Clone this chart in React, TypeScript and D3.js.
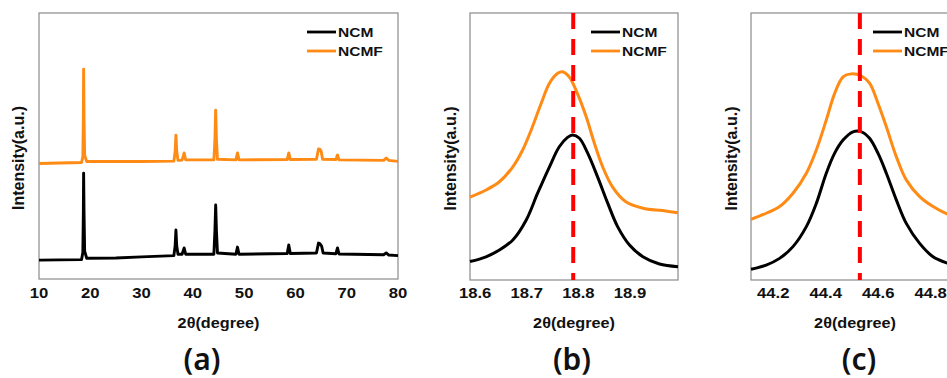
import React from 'react';
import * as d3 from 'd3';

type Pt = [number, number];

const NCM_COLOR = '#000000';
const NCMF_COLOR = '#ff8a14';
const REF_COLOR = '#ff0000';

// (a) full scan, 2θ vs intensity (a.u., 0-100 of the plot height)
const scanNcm: Pt[] = [
  [10, 7.1], [14, 7.2], [18.3, 7.3], [18.55, 10], [18.65, 25], [18.7, 39.8], [18.78, 25], [18.9, 10.5],
  [19.3, 7.8], [25, 7.9], [30, 8.3], [36.3, 8.8], [36.55, 12.5], [36.7, 18.4], [36.85, 12.5], [37.1, 9.3],
  [37.9, 9.3], [38.3, 11.7], [38.6, 9.3], [44.1, 9.3], [44.3, 18], [44.45, 27.8], [44.6, 18], [44.8, 9.8],
  [48.4, 9.3], [48.7, 12.0], [49.0, 9.3], [58.4, 9.6], [58.7, 12.8], [59.0, 9.6], [64.1, 9.8], [64.5, 13.5],
  [64.8, 13.2], [65.1, 12.4], [65.4, 9.8], [67.9, 9.5], [68.2, 11.7], [68.5, 9.4], [77.2, 9.1], [77.7, 9.8],
  [78.2, 9.0], [80, 8.8],
];
const scanNcmf: Pt[] = [
  [10, 43.4], [14, 43.6], [18.3, 43.8], [18.55, 46], [18.65, 60], [18.7, 78.9], [18.78, 60], [18.9, 46.5],
  [19.3, 44.2], [30, 44.2], [36.3, 44.3], [36.55, 48], [36.7, 54.1], [36.85, 48], [37.1, 44.6], [37.9, 44.7],
  [38.3, 47.4], [38.6, 44.8], [44.1, 44.8], [44.3, 52], [44.45, 63.5], [44.6, 52], [44.8, 45], [48.4, 44.8],
  [48.7, 47.4], [49.0, 44.8], [58.4, 44.9], [58.7, 47.4], [59.0, 44.9], [64.1, 45], [64.5, 48.9], [64.8, 48.7],
  [65.0, 48.1], [65.3, 45], [67.9, 44.9], [68.2, 46.6], [68.5, 44.8], [77.2, 44.6], [77.7, 45.5], [78.2, 44.6],
  [80, 44.2],
];
const scanTicks = [10, 20, 30, 40, 50, 60, 70, 80];

// (b) zoom around the (003) peak
const peak003Ncm: Pt[] = [
  [18.59, 6.9], [18.621, 8.7], [18.647, 11.2], [18.673, 15.0], [18.699, 22.5], [18.721, 32.5], [18.744, 42.4],
  [18.763, 49.9], [18.779, 53.4], [18.789, 54.3], [18.802, 53.1], [18.818, 47.5], [18.837, 38.7], [18.857, 28.7],
  [18.876, 20.0], [18.899, 13.1], [18.925, 8.7], [18.957, 6.0], [18.993, 5.0],
];
const peak003Ncmf: Pt[] = [
  [18.59, 31.0], [18.621, 33.7], [18.647, 36.8], [18.673, 42.4], [18.692, 48.7], [18.711, 57.4], [18.728, 66.2],
  [18.744, 73.7], [18.76, 77.4], [18.769, 78.0], [18.782, 76.1], [18.798, 69.9], [18.815, 61.2], [18.831, 51.2],
  [18.847, 42.4], [18.866, 34.9], [18.892, 29.3], [18.925, 26.9], [18.963, 26.0], [18.993, 25.2],
];
const peak003Ticks = [18.6, 18.7, 18.8, 18.9];
const peak003Ref = 18.79;

// (c) zoom around the (104) peak
const peak104Ncm: Pt[] = [
  [44.115, 4.0], [44.173, 5.6], [44.224, 8.1], [44.275, 12.5], [44.326, 20.0], [44.364, 28.7], [44.402, 40.0],
  [44.434, 47.5], [44.466, 52.4], [44.504, 55.5], [44.536, 55.5], [44.567, 53.1], [44.599, 47.5], [44.631, 40.0],
  [44.669, 30.0], [44.707, 21.2], [44.758, 13.7], [44.809, 8.7], [44.864, 6.3], [44.908, 5.2],
];
const peak104Ncmf: Pt[] = [
  [44.115, 22.7], [44.173, 25.0], [44.224, 27.5], [44.275, 32.5], [44.326, 40.0], [44.364, 48.7], [44.402, 59.9],
  [44.434, 69.9], [44.466, 76.1], [44.497, 77.2], [44.536, 76.4], [44.567, 73.7], [44.599, 66.2], [44.631, 57.4],
  [44.669, 46.2], [44.707, 37.5], [44.758, 31.2], [44.809, 27.5], [44.864, 24.7], [44.908, 23.6],
];
const peak104Ticks = [44.2, 44.4, 44.6, 44.8];
const peak104Ref = 44.53;

const seriesNames = ['NCM', 'NCMF'];
const panelLabels = ['(a)', '(b)', '(c)'];

const ARIAL = '"Liberation Sans", Arial, sans-serif';

type PanelProps = {
  left: number;
  right: number;
  top: number;
  bottom: number;
  domain: [number, number];
  ncm: Pt[];
  ncmf: Pt[];
  ticks: number[];
  fmt: (v: number) => string;
  refX?: number;
  label: string;
  labelX: number;
  yLabelX: number;
  legendX: number;
  curve: d3.CurveFactory;
  width: number;
};

function Panel(p: PanelProps) {
  const x = d3.scaleLinear().domain(p.domain).range([p.left, p.right]);
  const y = d3.scaleLinear().domain([0, 100]).range([p.bottom, p.top]);
  const line = d3.line<Pt>().x(d => x(d[0])).y(d => y(d[1])).curve(p.curve);
  const midX = (p.left + p.right) / 2;
  const midY = (p.top + p.bottom) / 2;

  return (
    <g>
      <rect x={p.left} y={p.top} width={p.right - p.left} height={p.bottom - p.top}
        fill="none" stroke="#8a8a8a" strokeWidth={1.2} />
      <path d={line(p.ncmf) || ''} fill="none" stroke={NCMF_COLOR} strokeWidth={p.width} strokeLinejoin="round" />
      <path d={line(p.ncm) || ''} fill="none" stroke={NCM_COLOR} strokeWidth={p.width} strokeLinejoin="round" />
      {p.refX !== undefined && (
        <line x1={x(p.refX)} x2={x(p.refX)} y1={p.top} y2={p.bottom}
          stroke={REF_COLOR} strokeWidth={4} strokeDasharray="16,10" />
      )}

      {/* legend */}
      {seriesNames.map((name, i) => (
        <g key={name}>
          <line x1={p.legendX} x2={p.legendX + 29} y1={32 + i * 19} y2={32 + i * 19}
            stroke={i === 0 ? NCM_COLOR : NCMF_COLOR} strokeWidth={2.8} />
          <text transform={`translate(${p.legendX + 31},${37 + i * 19}) scale(1.15,1)`}
            fontFamily={ARIAL} fontWeight="bold" fontSize={13.5} fill="#111">{name}</text>
        </g>
      ))}

      {/* x tick labels */}
      {p.ticks.map(t => (
        <text key={t} transform={`translate(${x(t)},298) scale(1.15,1)`} textAnchor="middle"
          fontFamily={ARIAL} fontWeight="bold" fontSize={14.5} fill="#111">{p.fmt(t)}</text>
      ))}

      <text transform={`translate(${midX},328) scale(1.12,1)`} textAnchor="middle"
        fontFamily={ARIAL} fontWeight="bold" fontSize={14.5} fill="#111">2θ(degree)</text>

      <text transform={`translate(${p.yLabelX},${midY + 12}) rotate(-90)`} textAnchor="middle"
        fontFamily={ARIAL} fontWeight="bold" fontSize={16} fill="#111">Intensity(a.u.)</text>

      <text x={p.labelX} y={370} textAnchor="middle" fontFamily='"Noto Sans", sans-serif'
        fontWeight={600} fontSize={30} fill="#111">{p.label}</text>
    </g>
  );
}

export default function App() {
  return (
    <svg width={947} height={378} viewBox="0 0 947 378"
      style={{ position: 'absolute', left: 0, top: 0, background: '#fff' }}>
      <Panel left={39} right={398} top={13} bottom={279} domain={[10, 80]}
        ncm={scanNcm} ncmf={scanNcmf} ticks={scanTicks} fmt={d3.format('d')}
        label={panelLabels[0]} labelX={202} yLabelX={24} legendX={307}
        curve={d3.curveLinear} width={2.9} />
      <Panel left={470} right={678} top={13} bottom={280} domain={[18.59, 18.993]}
        ncm={peak003Ncm} ncmf={peak003Ncmf} ticks={peak003Ticks} fmt={d3.format('.1f')}
        refX={peak003Ref} label={panelLabels[1]} labelX={572} yLabelX={456} legendX={591}
        curve={d3.curveCatmullRom.alpha(0.5)} width={3} />
      <Panel left={751} right={959} top={13} bottom={280} domain={[44.115, 44.908]}
        ncm={peak104Ncm} ncmf={peak104Ncmf} ticks={peak104Ticks} fmt={d3.format('.1f')}
        refX={peak104Ref} label={panelLabels[2]} labelX={859} yLabelX={737} legendX={873}
        curve={d3.curveCatmullRom.alpha(0.5)} width={3} />
    </svg>
  );
}
